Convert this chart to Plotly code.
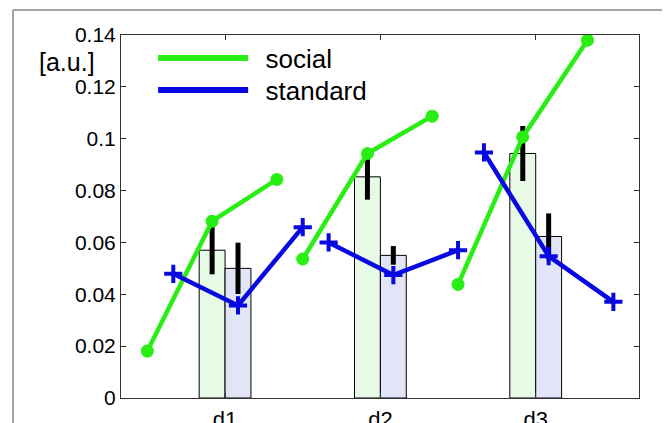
import plotly.graph_objects as go

# ---- data ----
categories = ["d1", "d2", "d3"]
bar_social = [0.0570, 0.0853, 0.0943]
bar_standard = [0.0500, 0.0550, 0.0623]
err_social = [0.0093, 0.0088, 0.0106]
err_standard = [0.0099, 0.0036, 0.0089]
# three points per group for the line traces
line_social = [[0.0181, 0.0682, 0.0843], [0.0536, 0.0943, 0.1087], [0.0438, 0.1007, 0.1380]]
line_standard = [[0.0479, 0.0357, 0.0659], [0.0600, 0.0474, 0.0570], [0.0947, 0.0547, 0.0371]]
y_ticks = [0, 0.02, 0.04, 0.06, 0.08, 0.1, 0.12, 0.14]

GREEN = "rgb(40,238,20)"
BLUE = "rgb(8,8,225)"
BAR_W = 1 / 6
soc_off = [-0.5, -BAR_W / 2, 1 / 3]
std_off = [-1 / 3, BAR_W / 2, 0.5]

xs = list(range(1, len(categories) + 1))

def build(lines, offs):
    X, Y = [], []
    for g, vals in zip(xs, lines):
        X += [g + o for o in offs] + [None]
        Y += list(vals) + [None]
    return X, Y

fig = go.Figure()
fig.add_bar(x=xs, y=bar_social, name="social_bar", showlegend=False,
            marker=dict(color="rgb(230,250,230)", line=dict(color="black", width=1)),
            error_y=dict(type="data", array=err_social, color="black", thickness=5, width=0))
fig.add_bar(x=xs, y=bar_standard, name="standard_bar", showlegend=False,
            marker=dict(color="rgb(226,228,248)", line=dict(color="black", width=1)),
            error_y=dict(type="data", array=err_standard, color="black", thickness=5, width=0))

sx, sy = build(line_social, soc_off)
bx, by = build(line_standard, std_off)
fig.add_scatter(x=sx, y=sy, mode="lines+markers", showlegend=False,
                line=dict(color=GREEN, width=4.5),
                marker=dict(symbol="circle", size=13, color=GREEN))
fig.add_scatter(x=bx, y=by, mode="lines+markers", showlegend=False,
                line=dict(color=BLUE, width=4.5),
                marker=dict(symbol="cross-thin", size=13, color=BLUE,
                            line=dict(color=BLUE, width=4)))
# legend entries (two single-item legends so their spacing can match)
fig.add_scatter(x=[None], y=[None], mode="lines", name="\u00a0\u2009social",
                line=dict(color=GREEN, width=6), legend="legend")
fig.add_scatter(x=[None], y=[None], mode="lines", name="\u00a0\u2009standard",
                line=dict(color=BLUE, width=6), legend="legend2")

leg_common = dict(xanchor="left", yanchor="middle", font=dict(size=26),
                  itemwidth=90, bgcolor="rgba(0,0,0,0)")

fig.update_layout(
    width=670, height=423,
    margin=dict(l=113, r=39, t=27, b=33, autoexpand=False),
    paper_bgcolor="white", plot_bgcolor="white",
    barmode="group", bargap=2 / 3, bargroupgap=0,
    font=dict(family="Liberation Sans, Arial, sans-serif", color="black"),
    legend=dict(x=0.062, y=(398 - 58) / 363, **leg_common),
    legend2=dict(x=0.062, y=(398 - 90) / 363, **leg_common),
    xaxis=dict(range=[0.33, 3.665], tickvals=xs, ticktext=categories,
               ticks="inside", ticklen=5, tickcolor="#333", automargin=False,
               showline=True, linecolor="#333", linewidth=1, mirror="ticks",
               showgrid=False, zeroline=False, tickfont=dict(size=22),
               ticklabelstandoff=2),
    yaxis=dict(range=[0, 0.14], tickvals=y_ticks, automargin=False,
               ticktext=[f"{v:g}" for v in y_ticks],
               ticks="inside", ticklen=5, tickcolor="#333",
               showline=True, linecolor="#333", linewidth=1, mirror="ticks",
               showgrid=False, zeroline=False, tickfont=dict(size=21)),
    annotations=[dict(text="[a.u.]", xref="paper", yref="paper", x=-0.104, y=0.926,
                      xanchor="center", yanchor="middle", showarrow=False,
                      font=dict(size=25))],
    shapes=[
        dict(type="line", xref="paper", yref="paper", x0=-0.2085, x1=1.0521, y0=1.0689, y1=1.0689,
             line=dict(color="#888", width=1.5)),
        dict(type="line", xref="paper", yref="paper", x0=-0.2085, x1=-0.2085, y0=-0.1, y1=1.0689,
             line=dict(color="#888", width=1.5)),
        dict(type="line", xref="paper", yref="paper", x0=1.0521, x1=1.0521, y0=-0.1, y1=1.0689,
             line=dict(color="#888", width=1.5)),
    ],
)

fig.write_html("out.html")
